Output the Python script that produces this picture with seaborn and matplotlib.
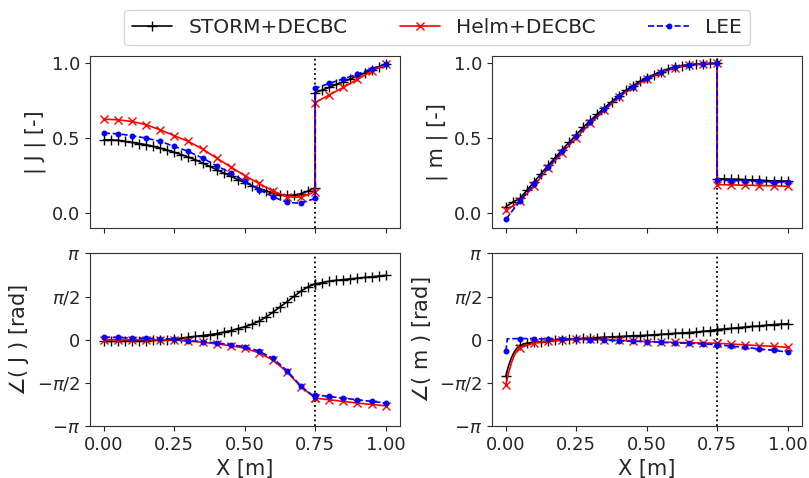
import numpy as np
import seaborn as sns
import matplotlib.pyplot as plt

# grids (x positions of the computed points)
x_l25 = [0.0, 0.025, 0.05, 0.075, 0.1, 0.125, 0.15, 0.175, 0.2, 0.225, 0.25, 0.275, 0.3, 0.325,
         0.35, 0.375, 0.4, 0.425, 0.45, 0.475, 0.5, 0.525, 0.55, 0.575, 0.6, 0.625, 0.65, 0.675,
         0.7, 0.725, 0.75]
x_l50 = [0.0, 0.05, 0.1, 0.15, 0.2, 0.25, 0.3, 0.35, 0.4, 0.45, 0.5, 0.55, 0.6, 0.65, 0.7, 0.75]
x_r25 = [0.75, 0.775, 0.8, 0.825, 0.85, 0.875, 0.9, 0.925, 0.95, 0.975, 1.0]
x_r50 = [0.75, 0.8, 0.85, 0.9, 0.95, 1.0]
# extra points near the inlet for the phase of m
x_storm_m = [0.0, 0.005, 0.01, 0.02, 0.03, 0.04] + x_l25[2:]
x_helm_m = [0.0, 0.005, 0.01, 0.02, 0.03, 0.04] + x_l50[1:]
x_lee_m = [0.0, 0.005] + x_l50[1:]

# |J|
storm_J_l = [0.49, 0.49, 0.487, 0.48, 0.473, 0.466, 0.458, 0.447, 0.436, 0.422, 0.407, 0.392,
             0.376, 0.357, 0.336, 0.314, 0.292, 0.27, 0.248, 0.226, 0.206, 0.186, 0.166, 0.15,
             0.136, 0.126, 0.12, 0.122, 0.132, 0.15, 0.17]
storm_J_r = [0.805, 0.823, 0.841, 0.86, 0.878, 0.897, 0.916, 0.936, 0.956, 0.975, 0.995]
helm_J_l = [0.628, 0.624, 0.613, 0.591, 0.557, 0.518, 0.48, 0.429, 0.369, 0.31, 0.252, 0.2,
            0.15, 0.11, 0.108, 0.145]
helm_J_r = [0.739, 0.79, 0.841, 0.894, 0.948, 0.995]
lee_J_l = [0.535, 0.531, 0.518, 0.502, 0.48, 0.447, 0.413, 0.369, 0.318, 0.27, 0.214, 0.159,
           0.111, 0.073, 0.068, 0.1]
lee_J_r = [0.834, 0.867, 0.897, 0.929, 0.965, 0.995]

# |m|
storm_m_l = [0.045, 0.075, 0.1, 0.155, 0.21, 0.265, 0.32, 0.372, 0.425, 0.475, 0.525, 0.575,
             0.62, 0.663, 0.705, 0.745, 0.785, 0.82, 0.85, 0.88, 0.905, 0.925, 0.945, 0.962,
             0.976, 0.986, 0.992, 0.996, 0.999, 1.0, 1.0]
storm_m_r = [0.232, 0.23, 0.228, 0.227, 0.225, 0.223, 0.221, 0.219, 0.217, 0.216, 0.214]
helm_m_l = [0.02, 0.08, 0.185, 0.3, 0.405, 0.505, 0.6, 0.688, 0.773, 0.84, 0.895, 0.937,
            0.972, 0.99, 0.998, 1.0]
helm_m_r = [0.192, 0.19, 0.188, 0.186, 0.184, 0.181]
lee_m_l = [-0.04, 0.085, 0.195, 0.31, 0.415, 0.515, 0.61, 0.695, 0.78, 0.845, 0.9, 0.94,
           0.975, 0.99, 0.998, 1.0]
lee_m_r = [0.222, 0.219, 0.216, 0.213, 0.21, 0.208]

# phase of J [rad]
storm_pJ_l = [-0.06, -0.06, -0.06, -0.055, -0.05, -0.045, -0.04, -0.03, -0.015, 0.0, 0.02,
              0.05, 0.09, 0.12, 0.15, 0.18, 0.22, 0.27, 0.33, 0.4, 0.47, 0.56, 0.67, 0.82, 1.0,
              1.19, 1.38, 1.58, 1.77, 1.93, 2.03]
storm_pJ_r = [2.03, 2.08, 2.13, 2.16, 2.19, 2.215, 2.24, 2.265, 2.29, 2.315, 2.34]
helm_pJ_l = [0.0, 0.0, 0.0, 0.0, -0.005, -0.015, -0.055, -0.095, -0.155, -0.22, -0.31, -0.48,
             -0.74, -1.18, -1.72, -2.13]
helm_pJ_r = [-2.13, -2.19, -2.25, -2.31, -2.36, -2.41]
lee_pJ_l = [0.09, 0.08, 0.06, 0.05, 0.04, 0.01, -0.035, -0.07, -0.12, -0.18, -0.26, -0.42,
            -0.68, -1.13, -1.7, -2.1]
lee_pJ_r = [-2.01, -2.07, -2.13, -2.19, -2.25, -2.31]

# phase of m [rad]
storm_pm_l = [-1.34, -1.12, -0.93, -0.65, -0.44, -0.3, -0.21, -0.13, -0.1, -0.07, -0.05,
              -0.03, -0.01, 0.01, 0.03, 0.045, 0.06, 0.075, 0.09, 0.1, 0.115, 0.125, 0.14,
              0.15, 0.16, 0.175, 0.19, 0.21, 0.23, 0.245, 0.26, 0.28, 0.3, 0.33, 0.37]
storm_pm_r = [0.37, 0.39, 0.41, 0.435, 0.46, 0.48, 0.5, 0.525, 0.55, 0.565, 0.58]
helm_pm_l = [-1.64, -1.42, -1.2, -0.84, -0.57, -0.4, -0.3, -0.12, -0.06, -0.01, 0.01, 0.01,
             -0.005, -0.02, -0.045, -0.07, -0.085, -0.1, -0.11, -0.12, -0.13]
helm_pm_r = [-0.13, -0.16, -0.19, -0.22, -0.24, -0.28]
lee_pm_l = [-0.43, 0.03, 0.04, 0.04, 0.02, 0.02, 0.02, 0.0, -0.02, -0.04, -0.06, -0.07,
            -0.1, -0.12, -0.13, -0.16, -0.18]
lee_pm_r = [-0.18, -0.24, -0.28, -0.34, -0.39, -0.45]

panels = [
    [(x_l25, storm_J_l, x_r25, storm_J_r), (x_l50, helm_J_l, x_r50, helm_J_r),
     (x_l50, lee_J_l, x_r50, lee_J_r)],
    [(x_l25, storm_m_l, x_r25, storm_m_r), (x_l50, helm_m_l, x_r50, helm_m_r),
     (x_l50, lee_m_l, x_r50, lee_m_r)],
    [(x_l25, storm_pJ_l, x_r25, storm_pJ_r), (x_l50, helm_pJ_l, x_r50, helm_pJ_r),
     (x_l50, lee_pJ_l, x_r50, lee_pJ_r)],
    [(x_storm_m, storm_pm_l, x_r25, storm_pm_r), (x_helm_m, helm_pm_l, x_r50, helm_pm_r),
     (x_lee_m, lee_pm_l, x_r50, lee_pm_r)],
]
names = ["STORM+DECBC", "Helm+DECBC", "LEE"]
styles = [
    dict(color="k", ls="-", marker="+", ms=7.5, mew=1.0, step=0.025),
    dict(color="r", ls="-", marker="x", ms=6, mew=1.0, step=0.05),
    dict(color="b", ls="--", marker=".", ms=6.5, mew=1.0, step=0.05),
]
ylabels = ["| J | [-]", "| m | [-]", r"$\angle$( J ) [rad]", r"$\angle$( m ) [rad]"]

sns.set_style("ticks")
plt.rcParams["font.family"] = ["DejaVu Sans"]

fig, axes = plt.subplots(2, 2, figsize=(8.09, 4.78), dpi=100, sharex=True)
fig.subplots_adjust(left=0.111, right=0.991, top=0.883, bottom=0.109, wspace=0.297, hspace=0.145)

for ax, series, ylab in zip(axes.flat, panels, ylabels):
    ax.axvline(0.75, color="k", ls=":", lw=1.3, zorder=1)
    for (xl, yl, xr, yr), st, name in zip(series, styles, names):
        x = np.array(xl + xr)
        y = np.array(yl + yr)
        k = x / st["step"]
        mk = list(np.abs(k - np.round(k)) < 1e-6)
        sns.lineplot(x=x, y=y, ax=ax, sort=False, estimator=None, color=st["color"],
                     linestyle=st["ls"], lw=1.2, marker=st["marker"], ms=st["ms"],
                     mew=st["mew"], mec=st["color"], markevery=mk, label=name, legend=False)
    ax.set_ylabel(ylab, fontsize=15)
    ax.tick_params(labelsize=13)
    ax.set_xlim(-0.05, 1.05)
    for s in ax.spines.values():
        s.set_color("#333333")

for ax in axes[0]:
    ax.set_ylim(-0.1, 1.05)
    ax.set_yticks([0.0, 0.5, 1.0])
for ax in axes[1]:
    ax.set_ylim(-np.pi, np.pi)
    ax.set_yticks([-np.pi, -np.pi / 2, 0, np.pi / 2, np.pi])
    ax.set_yticklabels([r"$-\pi$", r"$-\pi/2$", "0", r"$\pi/2$", r"$\pi$"])
    ax.set_xticks([0.0, 0.25, 0.5, 0.75, 1.0])
    ax.set_xticklabels(["0.00", "0.25", "0.50", "0.75", "1.00"])
    ax.set_xlabel("X [m]", fontsize=15)

handles, labels = axes[0, 0].get_legend_handles_labels()
fig.legend(handles, labels, loc="upper center", bbox_to_anchor=(0.54, 1.0), ncol=3,
           fontsize=14.5, columnspacing=2.6, handlelength=2.0, frameon=True)

fig.savefig("out.png", dpi=100)
